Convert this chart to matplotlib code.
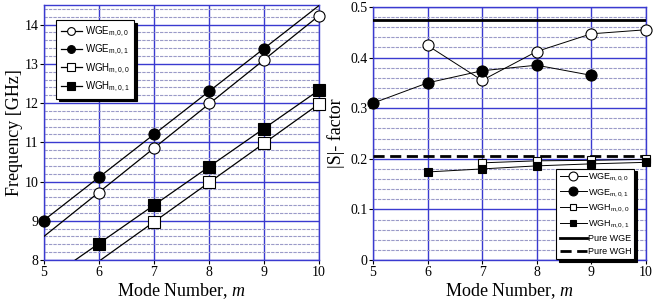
import numpy as np
import matplotlib
matplotlib.use("Agg")
import matplotlib.pyplot as plt
from matplotlib.ticker import MultipleLocator, FuncFormatter

plt.rcParams['mathtext.default'] = 'regular'
plt.rcParams['mathtext.fontset'] = 'custom'
plt.rcParams['mathtext.it'] = 'Liberation Serif:italic'
plt.rcParams['mathtext.rm'] = 'Liberation Serif'

# ---- data: left panel (Frequency vs mode number) ----
wge0_m = [6, 7, 8, 9, 10]
wge0_f = [9.72, 10.85, 12.0, 13.1, 14.22]
wge1_m = [5, 6, 7, 8, 9]
wge1_f = [9.0, 10.12, 11.22, 12.3, 13.38]
wgh0_m = [7, 8, 9, 10]
wgh0_f = [8.97, 9.98, 10.97, 11.98]
wgh1_m = [6, 7, 8, 9, 10]
wgh1_f = [8.42, 9.4, 10.38, 11.35, 12.33]

# ---- data: right panel (|S| factor) ----
s_wge0_m = [6, 7, 8, 9, 10]
s_wge0 = [0.424, 0.355, 0.412, 0.447, 0.455]
s_wge1_m = [5, 6, 7, 8, 9]
s_wge1 = [0.31, 0.35, 0.374, 0.385, 0.365]
s_wgh0_m = [7, 8, 9, 10]
s_wgh0 = [0.192, 0.196, 0.197, 0.199]
s_wgh1_m = [6, 7, 8, 9, 10]
s_wgh1 = [0.174, 0.18, 0.186, 0.19, 0.193]
pure_wge = 0.474
pure_wgh = 0.205

labels = ['WGE$_{m,0,0}$', 'WGE$_{m,0,1}$', 'WGH$_{m,0,0}$', 'WGH$_{m,0,1}$']

major_c = '#3a3ad0'
minor_c = '#9a9ac8'
serif = 'Liberation Serif'
sans = 'Liberation Sans'

fig = plt.figure(figsize=(6.54, 3.03), dpi=100)
ax1 = fig.add_axes([0.0673, 0.1419, 0.4205, 0.8416])
ax2 = fig.add_axes([0.5703, 0.1419, 0.4170, 0.8350])


def style(ax, xmaj, ymaj, ymin):
    ax.xaxis.set_major_locator(MultipleLocator(xmaj))
    ax.yaxis.set_major_locator(MultipleLocator(ymaj))
    ax.yaxis.set_minor_locator(MultipleLocator(ymin))
    ax.grid(which='major', color=major_c, lw=1.0, ls='-')
    ax.grid(which='minor', axis='y', color=minor_c, lw=0.8, ls=(0, (3, 1)))
    ax.set_axisbelow(True)
    for s in ax.spines.values():
        s.set_color(major_c)
        s.set_linewidth(1.0)
    ax.tick_params(which='major', length=3, width=0.8, color='k', labelsize=10, pad=1)
    ax.tick_params(which='minor', length=0)
    for lab in ax.get_xticklabels() + ax.get_yticklabels():
        lab.set_fontfamily(serif)
    ax.set_xlabel('Mode Number, $\\it{m}$', fontfamily=serif, fontsize=13, labelpad=2)


# ---- left panel ----
xx = np.array([5.0, 10.0])
series = [
    (wge0_m, wge0_f, 'o', 'white', 8),
    (wge1_m, wge1_f, 'o', 'black', 8),
    (wgh0_m, wgh0_f, 's', 'white', 8),
    (wgh1_m, wgh1_f, 's', 'black', 8),
]
handles = []
for (mx, fy, mk, fc, ms), lab in zip(series, labels):
    p = np.polyfit(mx, fy, 1)
    ax1.plot(xx, np.polyval(p, xx), color='k', lw=0.9, zorder=3)
    ax1.plot(mx, fy, ls='none', marker=mk, ms=ms, mfc=fc, mec='k', mew=0.8, zorder=4, clip_on=False)
    h, = ax1.plot([], [], color='k', lw=0.9, marker=mk, ms=ms, mfc=fc, mec='k', mew=0.8, label=lab)
    handles.append(h)

ax1.set_xlim(5, 10)
ax1.set_ylim(8, 14.5)
style(ax1, 1, 1, 0.2)
ax1.set_ylabel('Frequency [GHz]', fontfamily=serif, fontsize=13, labelpad=1)
leg1 = ax1.legend(handles=handles, loc='upper left', bbox_to_anchor=(0.025, 0.96),
                  prop={'family': sans, 'size': 7}, markerscale=0.7,
                  frameon=True, fancybox=False, edgecolor='k', framealpha=1,
                  shadow={'color': 'k', 'alpha': 1}, handlelength=2.2,
                  handletextpad=0.3, labelspacing=0.4, borderpad=0.5)
leg1.get_frame().set_linewidth(0.8)

# ---- right panel ----
ax2.plot(s_wge0_m, s_wge0, color='k', lw=0.7, marker='o', ms=8, mfc='white', mec='k', mew=0.8,
         zorder=4, clip_on=False, label=labels[0])
ax2.plot(s_wge1_m, s_wge1, color='k', lw=0.7, marker='o', ms=8, mfc='black', mec='k', mew=0.8,
         zorder=4, clip_on=False, label=labels[1])
ax2.plot(s_wgh0_m, s_wgh0, color='k', lw=0.7, marker='s', ms=6, mfc='white', mec='k', mew=0.8,
         zorder=4, clip_on=False, label=labels[2])
ax2.plot(s_wgh1_m, s_wgh1, color='k', lw=0.7, marker='s', ms=6, mfc='black', mec='k', mew=0.8,
         zorder=4, clip_on=False, label=labels[3])
ax2.axhline(pure_wge, color='k', lw=2.0, ls='-', zorder=3, label='Pure WGE')
ax2.axhline(pure_wgh, color='k', lw=2.0, ls=(0, (4, 2)), zorder=3, label='Pure WGH')
ax2.set_xlim(5, 10)
ax2.set_ylim(0, 0.5)
style(ax2, 1, 0.1, 0.02)
ax2.yaxis.set_major_formatter(FuncFormatter(lambda v, p: '0' if abs(v) < 1e-9 else f'{v:.1f}'))
ax2.set_ylabel('|S|- factor', fontfamily=serif, fontsize=13, labelpad=4)
leg2 = ax2.legend(loc='lower right', bbox_to_anchor=(0.975, -0.015),
                  prop={'family': sans, 'size': 6.5}, markerscale=0.8,
                  frameon=True, fancybox=False, edgecolor='k', framealpha=1,
                  shadow={'color': 'k', 'alpha': 1}, handlelength=3.0,
                  handletextpad=0.1, labelspacing=0.45, borderpad=0.35)
leg2.get_frame().set_linewidth(0.8)

fig.savefig('out.png', dpi=100)
